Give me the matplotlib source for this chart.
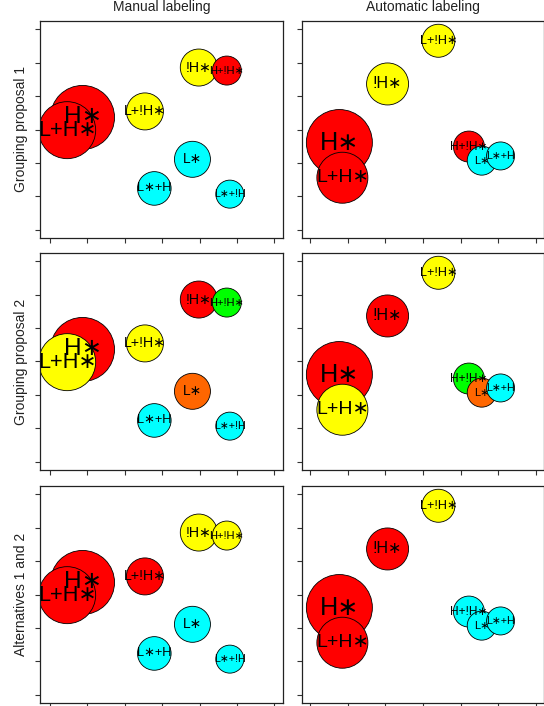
import numpy as np
import matplotlib
matplotlib.use("Agg")
from matplotlib import pyplot as plt

plt.rcParams['font.family'] = ['Liberation Sans', 'DejaVu Sans']

# Etykiety kategorii (kolejnosc = kolejnosc rysowania)
manual_labels = ["H*", "L+H*", "!H*", "H+!H*", "L+!H*", "L*", "L*+H", "L*+!H"]
auto_labels = ["H*", "L+H*", "!H*", "H+!H*", "L+!H*", "L*", "L*+H"]

# Pozycje w jednostkach osi (0..6)
manual_x = [0.87, 0.46, 3.98, 4.73, 2.54, 3.81, 2.79, 4.81]
manual_y = [3.36, 2.98, 4.85, 4.76, 3.54, 2.11, 1.24, 1.07]
auto_x = [0.78, 0.86, 2.06, 4.22, 3.41, 4.56, 5.06]
auto_y = [2.61, 1.56, 4.36, 2.49, 5.65, 2.07, 2.21]

# Wzgledny promien babelka
manual_size = [3.2, 2.85, 1.85, 1.45, 1.85, 1.8, 1.68, 1.4]
auto_size = [3.3, 2.55, 2.1, 1.55, 1.65, 1.45, 1.4]

row_titles = ["Grouping proposal 1", "Grouping proposal 2", "Alternatives 1 and 2"]
col_titles = ["Manual labeling", "Automatic labeling"]

# Kolory grup dla kazdego panelu
kolory = {
    (0, 0): ["red", "red", "yellow", "red", "yellow", "cyan", "cyan", "cyan"],
    (0, 1): ["red", "red", "yellow", "red", "yellow", "cyan", "cyan"],
    (1, 0): ["red", "yellow", "red", "green", "yellow", "orange", "cyan", "cyan"],
    (1, 1): ["red", "yellow", "red", "green", "yellow", "orange", "cyan"],
    (2, 0): ["red", "red", "yellow", "yellow", "red", "cyan", "cyan", "cyan"],
    (2, 1): ["red", "red", "red", "cyan", "yellow", "cyan", "cyan"],
}
paleta = {"red": "#FF0000", "yellow": "#FFFF00", "cyan": "#00FFFF",
          "green": "#00FF00", "orange": "#FF6600"}

W, H, DPI = 544, 706, 100
fig = plt.figure(figsize=(W / DPI, H / DPI), dpi=DPI)

# ramki paneli w pikselach
kol_x = [(40, 283.3), (301.7, 543.5)]
wiersz_y = [(21, 238), (253, 470), (486, 703)]
xlims = [(-0.267, 6.24), (-0.22, 6.20)]
ylim = (-0.24, 6.24)


def rysuj_panel(ax, xs, ys, rozm, etyk, kol, xl):
    r_px = np.array(rozm) * 10
    s = (2 * r_px * 72 / DPI) ** 2
    ax.scatter(xs, ys, s=s, c=[paleta[k] for k in kol], edgecolors='black',
               linewidths=0.6, zorder=2)
    for x, y, r, t in zip(xs, ys, r_px, etyk):
        ax.text(x, y, t.replace("*", "\u2217"), ha='center', va='center',
                fontsize=0.55 * r, color='black', zorder=3)
    ax.set_xlim(*xl)
    ax.set_ylim(*ylim)
    ax.set_xticks(range(7))
    ax.set_yticks(range(7))
    ax.set_xticklabels([])
    ax.set_yticklabels([])
    ax.tick_params(direction='out', length=3.3, width=0.8, color='#333333')
    for sp in ax.spines.values():
        sp.set_linewidth(0.9)
        sp.set_color('#222222')


for i in range(3):
    for j in range(2):
        x0, x1 = kol_x[j]
        y0, y1 = wiersz_y[i]
        ax = fig.add_axes([x0 / W, 1 - y1 / H, (x1 - x0) / W, (y1 - y0) / H])
        if j == 0:
            rysuj_panel(ax, manual_x, manual_y, manual_size, manual_labels,
                        kolory[(i, j)], xlims[j])
        else:
            rysuj_panel(ax, auto_x, auto_y, auto_size, auto_labels,
                        kolory[(i, j)], xlims[j])

for j in range(2):
    x0, x1 = kol_x[j]
    fig.text((x0 + x1) / 2 / W, 1 - 7.5 / H, col_titles[j], ha='center',
             va='center', fontsize=10, color='#222222')

for i in range(3):
    y0, y1 = wiersz_y[i]
    fig.text(21.5 / W, 1 - (y0 + y1) / 2 / H, row_titles[i], ha='center',
             va='center', rotation=90, fontsize=10, color='#222222')

plt.savefig('out.png', dpi=DPI)
